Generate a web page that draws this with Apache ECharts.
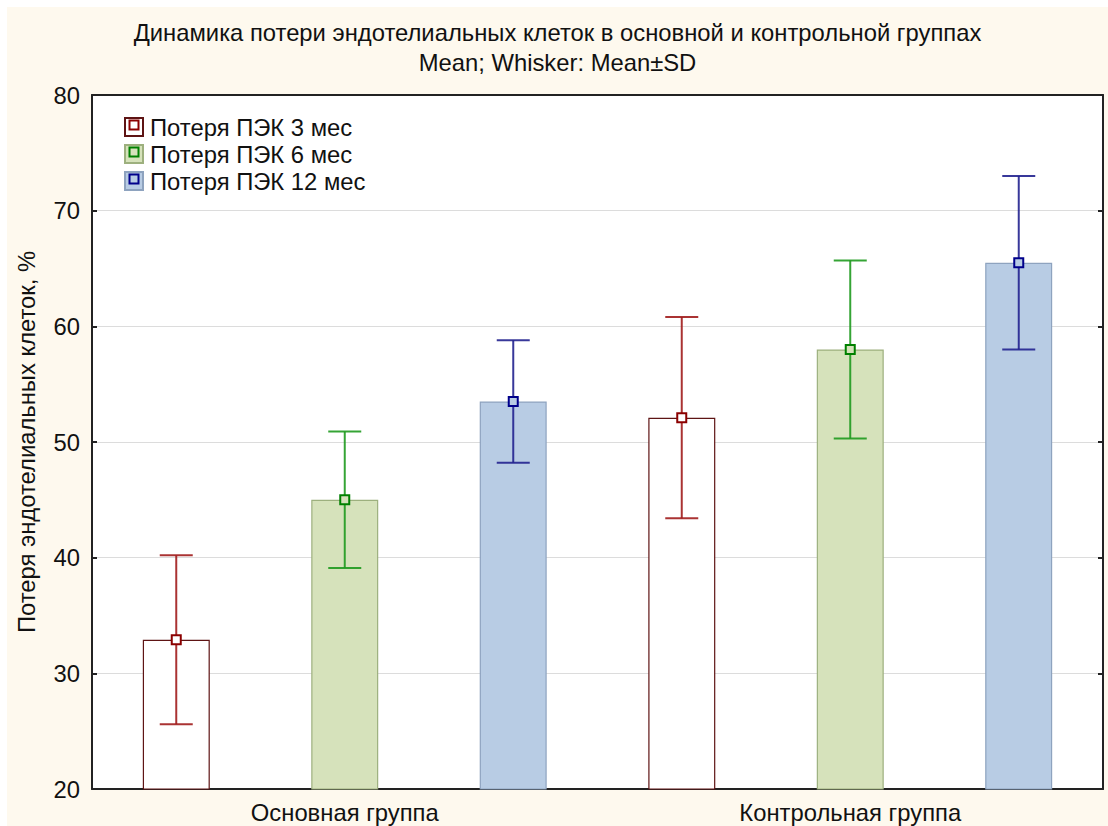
<!DOCTYPE html>
<html>
<head>
<meta charset="utf-8">
<script src="https://cdn.jsdelivr.net/npm/echarts@6/dist/echarts.min.js"></script>
<style>
  html, body { margin: 0; padding: 0; background: #ffffff; }
  #chart { position: absolute; left: 7px; top: 7px; width: 1101px; height: 819px; background: #fef9ee; }
</style>
</head>
<body>
<div id="chart"></div>
<script>
// Groups and periods
const categories = ['Основная группа', 'Контрольная группа'];
const periodNames = ['Потеря ПЭК 3 мес', 'Потеря ПЭК 6 мес', 'Потеря ПЭК 12 мес'];

// Mean endothelial cell loss, % (per group)
const mean3 = [32.9, 52.1];
const mean6 = [45.0, 58.0];
const mean12 = [53.5, 65.5];

// Standard deviation, % (per group)
const sd3 = [7.3, 8.7];
const sd6 = [5.9, 7.7];
const sd12 = [5.3, 7.5];

// Value axis
const yMin = 20;
const yMax = 80;
const yStep = 10;

const FONT = "Arial, 'Liberation Sans', sans-serif";
const FS = 23.8;

const styles = [
  { fill: '#ffffff', border: '#5e1414', whisker: '#a11d1d', mark: '#8b0000' },
  { fill: '#d6e2bb', border: '#9db07e', whisker: '#1f9a1f', mark: '#008000' },
  { fill: '#b8cce4', border: '#8ea3bf', whisker: '#22228f', mark: '#00008b' }
];

const means = [mean3, mean6, mean12];
const sds = [sd3, sd6, sd12];

// Mean ± SD whisker with a square mean marker, placed over the matching bar
function whiskerRenderer(slot) {
  const st = styles[slot];
  return function (params, api) {
    const cat = api.value(0);
    const m = api.value(1);
    const s = api.value(2);
    const band = api.size([1, 0])[0];
    const dx = (slot - 1) * band / 3;
    const c = api.coord([cat, m]);
    const hi = api.coord([cat, m + s]);
    const lo = api.coord([cat, m - s]);
    const x = c[0] + dx;
    const cap = 16.5;
    const ls = { stroke: st.whisker, lineWidth: 2, opacity: 0.9 };
    return {
      type: 'group',
      children: [
        { type: 'line', shape: { x1: x, y1: hi[1], x2: x, y2: lo[1] }, style: ls },
        { type: 'line', shape: { x1: x - cap, y1: hi[1], x2: x + cap, y2: hi[1] }, style: ls },
        { type: 'line', shape: { x1: x - cap, y1: lo[1], x2: x + cap, y2: lo[1] }, style: ls },
        { type: 'rect', shape: { x: x - 4.5, y: c[1] - 4.5, width: 9, height: 9 },
          style: { fill: st.fill, stroke: st.mark, lineWidth: 2 } }
      ]
    };
  };
}

const barSeries = periodNames.map((name, i) => ({
  name: name,
  type: 'bar',
  xAxisIndex: 0,
  yAxisIndex: 0,
  barWidth: '13.25%',
  barGap: '151.5%',
  itemStyle: { color: styles[i].fill, borderColor: styles[i].border, borderWidth: 1.2 },
  emphasis: { disabled: true },
  data: means[i],
  z: 2
}));

const whiskerSeries = periodNames.map((name, i) => ({
  name: name + ' SD',
  type: 'custom',
  xAxisIndex: 0,
  yAxisIndex: 0,
  renderItem: whiskerRenderer(i),
  encode: { x: 0, y: 1 },
  data: categories.map((c, k) => [k, means[i][k], sds[i][k]]),
  z: 5,
  silent: true
}));

const axisLineStyle = { color: '#222222', width: 2 };

const chart = echarts.init(document.getElementById('chart'), null, { renderer: 'svg' });

// Legend layout (chart-local coordinates): one legend block per row
const legLeft = 117, legTop = 108, legIcon = 18, legStep = 27;

const legends = periodNames.map((name, i) => ({
  data: [name],
  orient: 'vertical',
  left: legLeft,
  top: legTop + i * legStep,
  padding: 0,
  itemWidth: legIcon,
  itemHeight: legIcon,
  icon: 'rect',
  selectedMode: false,
  textStyle: { fontFamily: FONT, fontSize: FS, color: '#111111', padding: [0, 0, 0, 2], lineHeight: legIcon, height: legIcon }
}));

const option = {
  animation: false,
  title: [
    {
      text: 'Динамика потери эндотелиальных клеток в основной и контрольной группах',
      left: 'center', top: 8,
      textStyle: { fontFamily: FONT, fontSize: FS, fontWeight: 'normal', color: '#111111' }
    },
    {
      text: 'Mean; Whisker: Mean±SD',
      left: 'center', top: 38,
      textStyle: { fontFamily: FONT, fontSize: FS, fontWeight: 'normal', color: '#111111' }
    }
  ],
  legend: legends,
  grid: {
    left: 85, right: 5, top: 88, bottom: 37,
    outerBoundsMode: 'none',
    containLabel: false,
    show: true, backgroundColor: '#ffffff', borderColor: '#222222', borderWidth: 0
  },
  xAxis: [
    {
      type: 'category', data: categories, position: 'bottom',
      axisLine: { lineStyle: axisLineStyle },
      axisTick: { inside: true, alignWithLabel: true, length: 6, lineStyle: { color: '#222222', width: 2 } },
      axisLabel: { fontFamily: FONT, fontSize: FS, color: '#111111', margin: 11 },
      splitLine: { show: false }
    },
    {
      type: 'category', data: categories, position: 'top',
      axisLine: { lineStyle: axisLineStyle },
      axisTick: { inside: true, alignWithLabel: true, length: 6, lineStyle: { color: '#222222', width: 2 } },
      axisLabel: { show: false },
      splitLine: { show: false }
    }
  ],
  yAxis: [
    {
      type: 'value', min: yMin, max: yMax, interval: yStep, position: 'left',
      name: 'Потеря эндотелиальных клеток, %',
      nameLocation: 'middle', nameGap: 54, nameRotate: 90,
      nameTextStyle: { fontFamily: FONT, fontSize: FS, color: '#111111' },
      axisLine: { show: true, lineStyle: axisLineStyle },
      axisTick: { show: true, inside: true, length: 5, lineStyle: { color: '#222222', width: 2 } },
      axisLabel: { fontFamily: FONT, fontSize: FS, color: '#111111', margin: 12 },
      splitLine: { show: true, lineStyle: { color: '#dcdcdc', width: 1 } }
    },
    {
      type: 'value', min: yMin, max: yMax, interval: yStep, position: 'right',
      axisLine: { show: true, lineStyle: axisLineStyle },
      axisTick: { show: true, inside: true, length: 5, lineStyle: { color: '#222222', width: 2 } },
      axisLabel: { show: false },
      splitLine: { show: false }
    }
  ],
  // Small hollow squares inside the legend swatches (mean marker symbol)
  graphic: periodNames.map((n, i) => ({
    type: 'rect',
    left: legLeft + legIcon / 2 - 4.5,
    top: legTop + i * legStep + legIcon / 2 - 4.5,
    shape: { width: 9, height: 9 },
    style: { fill: styles[i].fill, stroke: styles[i].mark, lineWidth: 2 },
    z: 100,
    silent: true
  })),
  series: barSeries.concat(whiskerSeries)
};

chart.setOption(option);
</script>
</body>
</html>
